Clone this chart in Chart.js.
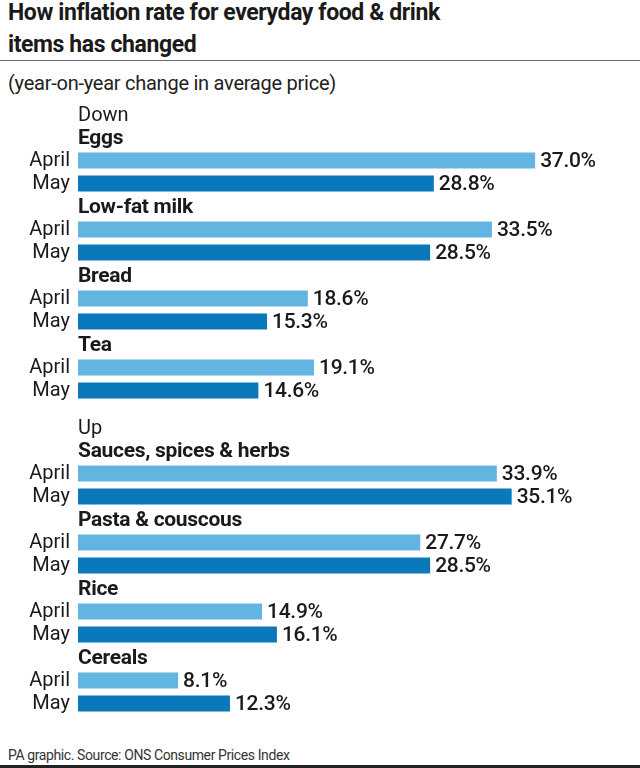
<!DOCTYPE html>
<html>
<head>
<meta charset="utf-8">
<script src="https://cdn.jsdelivr.net/npm/chart.js@4"></script>
<style>
  html, body { margin:0; padding:0; background:#fff; }
  body { width:640px; height:768px; position:relative; overflow:hidden; font-family: Roboto, "Liberation Sans", sans-serif; color:#1a1a1a; }
  #title { position:absolute; left:8px; top:-3px; font-weight:700; font-size:23px; line-height:32px; letter-spacing:-0.4px; width:630px; }
  #rule { position:absolute; left:0; top:60px; width:640px; height:1px; background:#6b6b6b; }
  #subtitle { position:absolute; left:8px; top:70px; font-size:20px; line-height:26px; letter-spacing:-0.25px; color:#222; }
  #footer { position:absolute; left:8px; top:746px; font-size:14px; line-height:18px; letter-spacing:-0.4px; color:#333; }
  #bottom { position:absolute; left:0; top:765px; width:640px; height:3px; background:#222; }
  .wrap { position:absolute; left:0; width:640px; }
</style>
</head>
<body>
<div id="title">How inflation rate for everyday food &amp; drink<br>items has changed</div>
<div id="rule"></div>
<div id="subtitle">(year-on-year change in average price)</div>
<div class="wrap" style="top:103px;height:299px;"><canvas id="c1"></canvas></div>
<div class="wrap" style="top:416px;height:299px;"><canvas id="c2"></canvas></div>
<div id="footer">PA graphic. Source: ONS Consumer Prices Index</div>
<div id="bottom"></div>
<script>
const sectionLabels = ['Down', 'Up'];
const seriesLabels = ['April', 'May'];
const downCategories = ['Eggs', 'Low-fat milk', 'Bread', 'Tea'];
const downApril = [37.0, 33.5, 18.6, 19.1];
const downMay = [28.8, 28.5, 15.3, 14.6];
const upCategories = ['Sauces, spices & herbs', 'Pasta & couscous', 'Rice', 'Cereals'];
const upApril = [33.9, 27.7, 14.9, 8.1];
const upMay = [35.1, 28.5, 16.1, 12.3];

const aprilColor = '#63b5e1';
const mayColor = '#0a79bb';
const textColor = '#1a1a1a';
const FONT = 'Roboto, "Liberation Sans", sans-serif';

function buildRows(section, cats, apr, may) {
  const labels = [section], types = ['section'], data = [null], colors = ['rgba(0,0,0,0)'];
  cats.forEach((c, i) => {
    labels.push(c); types.push('header'); data.push(null); colors.push('rgba(0,0,0,0)');
    labels.push(seriesLabels[0]); types.push('bar'); data.push(apr[i]); colors.push(aprilColor);
    labels.push(seriesLabels[1]); types.push('bar'); data.push(may[i]); colors.push(mayColor);
  });
  return { labels, types, data, colors };
}

const textPlugin = {
  id: 'textPlugin',
  afterDatasetsDraw(chart) {
    const rows = chart.options.plugins.textPlugin.rows;
    const ctx = chart.ctx;
    const xs = chart.scales.x, ys = chart.scales.y;
    const x0 = xs.getPixelForValue(0);
    ctx.save();
    ctx.fillStyle = textColor;
    ctx.textBaseline = 'middle';
    ctx.textAlign = 'left';
    rows.labels.forEach((lab, i) => {
      const y = ys.getPixelForValue(i);
      if (rows.types[i] === 'section') {
        if ('letterSpacing' in ctx) ctx.letterSpacing = '0px';
        ctx.font = '400 20px ' + FONT;
        ctx.fillText(lab, x0, y + 1);
      } else if (rows.types[i] === 'header') {
        if ('letterSpacing' in ctx) ctx.letterSpacing = '-0.3px';
        ctx.font = '700 21px ' + FONT;
        ctx.fillText(lab, x0, y + 1);
      } else {
        if ('letterSpacing' in ctx) ctx.letterSpacing = '-0.3px';
        const v = rows.data[i];
        ctx.font = '500 21px ' + FONT;
        ctx.fillText(v.toFixed(1) + '%', xs.getPixelForValue(v) + 5, y + 1);
      }
    });
    ctx.restore();
  }
};

function makeChart(id, rows) {
  return new Chart(document.getElementById(id), {
    type: 'bar',
    data: {
      labels: rows.labels,
      datasets: [{
        data: rows.data,
        backgroundColor: rows.colors,
        barPercentage: 0.7,
        categoryPercentage: 1.0,
        borderWidth: 0
      }]
    },
    options: {
      indexAxis: 'y',
      responsive: true,
      maintainAspectRatio: false,
      animation: false,
      layout: { padding: { left: 0, right: 6, top: 0, bottom: 0 } },
      plugins: {
        legend: { display: false },
        tooltip: { enabled: false },
        textPlugin: { rows }
      },
      scales: {
        x: { min: 0, max: 45, display: false },
        y: {
          grid: { display: false, drawTicks: false },
          border: { display: false },
          afterFit(scale) { scale.width = 78; scale.paddingTop = 0; scale.paddingBottom = 0; },
          ticks: {
            autoSkip: false,
            padding: 8,
            color: textColor,
            font: { family: FONT, size: 20, weight: '400' },
            callback(value, index) { return rows.types[index] === 'bar' ? rows.labels[index] : ''; }
          }
        }
      }
    },
    plugins: [textPlugin]
  });
}

makeChart('c1', buildRows(sectionLabels[0], downCategories, downApril, downMay));
makeChart('c2', buildRows(sectionLabels[1], upCategories, upApril, upMay));
</script>
</body>
</html>
